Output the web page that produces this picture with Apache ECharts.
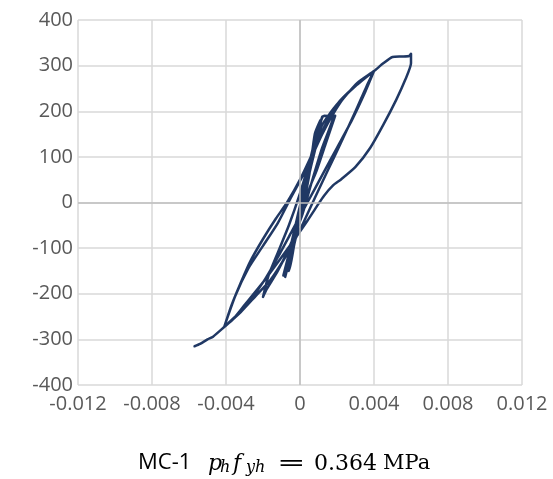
<!DOCTYPE html>
<html>
<head>
<meta charset="utf-8">
<script src="https://cdn.jsdelivr.net/npm/echarts@6/dist/echarts.min.js"></script>
<style>html,body{margin:0;padding:0;background:#fff}#c{width:553px;height:479px}</style>
</head>
<body>
<div id="c"></div>
<script>
// strain (x) and force (y) along the hysteresis path
const strain = [
  0, 0.0003, 0.0007, 0.0010, 0.0006, 0.0001, -0.0003, -0.0007, -0.0006, -0.0003, 0.0001, 0.0005,
  0.0008, 0.0011, 0.0007, 0.0002, -0.0004, -0.0009, -0.0007, -0.0003, 0.0002, 0.0006,
  0.0009, 0.0012, 0.0015, 0.0019, 0.0014, 0.0009, 0.0005, 0.0000, -0.0004, -0.0008,
  -0.0004, 0.0000, 0.0005, 0.0010, 0.0013, 0.0018, 0.0012, 0.0006, 0.0001,
  -0.0006, -0.0012, -0.0018, -0.0020, -0.0017, -0.0012, -0.0006, 0.0000, 0.0006, 0.0012,
  0.0020, 0.0030, 0.0040,
  0.0036, 0.0030, 0.0022, 0.0015, 0.0008, 0.0000, -0.0008, -0.0016, -0.0024, -0.0032, -0.0041,
  -0.0037, -0.0033, -0.0027, -0.0020, -0.0013, -0.0007, 0.0000, 0.0007, 0.0013, 0.0020, 0.0029, 0.0040,
  0.0035, 0.0028, 0.0020, 0.0012, 0.0004, -0.0004, -0.0012, -0.0020, -0.0030, -0.0041,
  -0.0035, -0.0028, -0.0020, -0.0012, -0.0005, 0.0003, 0.0012, 0.0022, 0.0031, 0.0040,
  0.0045, 0.0050, 0.0055, 0.0059, 0.0060, 0.0060, 0.0057, 0.0052, 0.0045, 0.0038, 0.0030,
  0.0022, 0.0018, 0.0013, 0.0009, 0.0004, -0.0002, -0.0010, -0.0020, -0.0030, -0.0036,
  -0.0041, -0.0047, -0.0050, -0.0054, -0.0057
];
const force = [
  0, 50, 120, 165, 90, 10, -60, -140, -150, -90, -20, 60,
  150, 180, 100, 20, -80, -160, -150, -70, 10, 80,
  130, 188, 190, 190, 130, 70, 30, -40, -100, -163,
  -90, -10, 80, 160, 190, 188, 120, 40, -30,
  -100, -150, -190, -207, -160, -110, -50, 20, 100, 170,
  215, 255, 288,
  255, 200, 130, 70, 10, -60, -120, -170, -205, -240, -273,
  -225, -185, -130, -80, -35, 0, 50, 110, 165, 215, 252, 288,
  240, 180, 120, 60, 0, -60, -120, -175, -230, -273,
  -205, -145, -95, -45, 10, 70, 150, 220, 262, 288,
  305, 319, 320, 321, 326, 305, 270, 225, 170, 120, 78,
  50, 38, 15, -9, -40, -75, -120, -175, -225, -255,
  -273, -294, -300, -310, -315
];
const xTicks = ['-0.012', '-0.008', '-0.004', '0', '0.004', '0.008', '0.012'];
const yMin = -400, yMax = 400, yStep = 100;

const pts = strain.map((x, i) => [x, force[i]]);
const chart = echarts.init(document.getElementById('c'), null, {renderer: 'canvas'});
const labelFont = {color: '#595959', fontSize: 20, fontFamily: 'Open Sans'};
const serif = 'DejaVu Serif';
const baseY = 463;
function txt(str, x, y, font, size, italic, sx) {
  return {
    type: 'text', x: x, y: y, silent: true, scaleX: sx || 1,
    style: {text: str, fill: '#000', fontFamily: font, fontSize: size,
            fontStyle: italic ? 'italic' : 'normal', verticalAlign: 'middle', align: 'left'}
  };
}
chart.setOption({
  animation: false,
  grid: {left: 78, right: 31, top: 20, bottom: 94, containLabel: false},
  xAxis: {
    type: 'value', min: -0.012, max: 0.012, interval: 0.004,
    axisLine: {show: false}, axisTick: {show: false},
    splitLine: {lineStyle: {color: '#d9d9d9', width: 1.5}},
    axisLabel: Object.assign({margin: 9, formatter: (v) => {
      const idx = Math.round((v + 0.012) / 0.004);
      return xTicks[idx] !== undefined ? xTicks[idx] : '';
    }}, labelFont)
  },
  yAxis: {
    type: 'value', min: yMin, max: yMax, interval: yStep,
    axisLine: {show: false}, axisTick: {show: false},
    splitLine: {lineStyle: {color: '#d9d9d9', width: 1.5}},
    axisLabel: Object.assign({margin: 5}, labelFont)
  },
  series: [
    {
      type: 'line', data: [], z: 1, silent: true,
      markLine: {
        silent: true, symbol: 'none', animation: false,
        label: {show: false},
        lineStyle: {color: '#bfbfbf', width: 1.5, type: 'solid'},
        data: [{xAxis: 0}, {yAxis: 0}]
      }
    },
    {
      type: 'line', data: pts, z: 3, showSymbol: false, smooth: 0.2,
      lineStyle: {color: '#203864', width: 2.5, join: 'round', cap: 'round'}
    }
  ],
  graphic: [
    txt('MC-1', 138, baseY, 'Open Sans', 22, false),
    txt('p', 208, baseY + 1, serif, 22, true),
    txt('h', 220, baseY + 5, serif, 16, true),
    txt('f', 233, baseY + 1, serif, 22, true),
    txt('yh', 246, baseY + 5, serif, 16, true),
    txt('=', 277, baseY + 1, serif, 22, false, 1.55),
    txt('0.364', 314, baseY + 1, serif, 22, false),
    txt('MPa', 383, baseY + 1, serif, 21, false)
  ]
});
</script>
</body>
</html>
